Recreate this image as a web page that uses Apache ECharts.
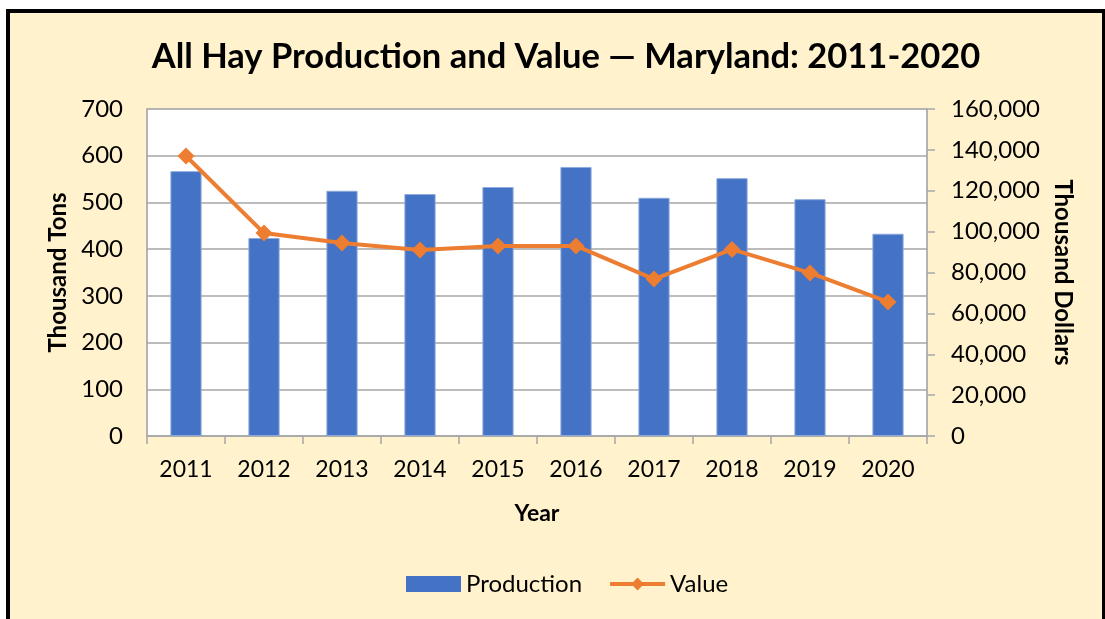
<!DOCTYPE html>
<html>
<head>
<meta charset="utf-8">
<script src="https://cdn.jsdelivr.net/npm/echarts@6/dist/echarts.min.js"></script>
<style>
  body { margin: 0; background: #fff; }
  #frame { position: absolute; left: 6px; top: 9px; width: 1092px; height: 620px;
           border-left: 4px solid #000; border-top: 4px solid #000; border-right: 4px solid #000;
           background: #FFF2CC; }
  #chart { position: absolute; left: 0; top: 0; width: 1105px; height: 619px; }
</style>
</head>
<body>
<div id="frame"></div>
<div id="chart"></div>
<script>
// data
var years = ['2011', '2012', '2013', '2014', '2015', '2016', '2017', '2018', '2019', '2020'];
var production = [567, 424, 525, 518, 533, 576, 510, 552, 507, 433];   // thousand tons
var value = [137000, 99300, 94400, 91000, 93000, 93000, 76800, 91300, 79800, 65600]; // thousand dollars

var fnt = 'Lato, "Open Sans", sans-serif';

var myChart = echarts.init(document.getElementById('chart'));
var option = {
  backgroundColor: 'transparent',
  textStyle: { fontFamily: fnt },
  title: {
    text: 'All Hay Production and Value \u2014 Maryland: 2011-2020',
    left: 561, top: 34, textAlign: 'center',
    textStyle: { fontFamily: fnt, fontSize: 34.5, fontWeight: 'bold', color: '#000' }
  },
  legend: {
    top: 567, left: 401,
    itemGap: 26,
    textStyle: { fontFamily: fnt, fontSize: 24, color: '#000' },
    data: [
      { name: 'Production', icon: 'rect', itemStyle: { color: '#4472C4', borderWidth: 0 } },
      { name: 'Value', lineStyle: { width: 4 } }
    ],
    itemWidth: 55, itemHeight: 16
  },
  grid: { left: 147, right: 178, top: 109, bottom: 183, show: true, backgroundColor: '#fff', borderColor: '#BFBFBF', borderWidth: 1 },
  xAxis: {
    type: 'category',
    data: years,
    name: 'Year', nameLocation: 'middle', nameGap: 66,
    nameTextStyle: { fontFamily: fnt, fontSize: 23, fontWeight: 'bold', color: '#000' },
    axisLine: { lineStyle: { color: '#A6A6A6', width: 1.5 } },
    axisTick: { show: true, length: 8, lineStyle: { color: '#A6A6A6', width: 1.5 } },
    axisLabel: { fontSize: 23, color: '#000', margin: 22 }
  },
  yAxis: [
    {
      type: 'value', min: 0, max: 700, interval: 100,
      name: 'Thousand Tons', nameLocation: 'middle', nameGap: 76,
      nameTextStyle: { fontFamily: fnt, fontSize: 24, fontWeight: 'bold', color: '#000' },
      axisLine: { show: true, lineStyle: { color: '#A6A6A6', width: 1.5 } },
      axisTick: { show: false },
      axisLabel: { fontSize: 24, color: '#000', margin: 24 },
      splitLine: { lineStyle: { color: '#A6A6A6', width: 1.5 } }
    },
    {
      type: 'value', min: 0, max: 160000, interval: 20000, position: 'right',
      name: 'Thousand Dollars', nameLocation: 'middle', nameGap: 122, nameRotate: -90,
      nameTextStyle: { fontFamily: fnt, fontSize: 24, fontWeight: 'bold', color: '#000' },
      axisLine: { show: true, lineStyle: { color: '#A6A6A6', width: 1.5 } },
      axisTick: { show: true, length: 8, lineStyle: { color: '#A6A6A6', width: 1.5 } },
      axisLabel: {
        fontSize: 24, color: '#000', margin: 24,
        formatter: function (v) { return v.toLocaleString('en-US'); }
      },
      splitLine: { show: false }
    }
  ],
  series: [
    {
      name: 'Production', type: 'bar', yAxisIndex: 0,
      data: production, barWidth: '40%',
      itemStyle: { color: '#4472C4', borderColor: '#8FAADC', borderWidth: 1 }
    },
    {
      name: 'Value', type: 'line', yAxisIndex: 1,
      data: value,
      symbol: 'diamond', symbolSize: 17,
      lineStyle: { color: '#ED7D31', width: 4 },
      itemStyle: { color: '#ED7D31' }
    }
  ]
};
myChart.setOption(option);
</script>
</body>
</html>
